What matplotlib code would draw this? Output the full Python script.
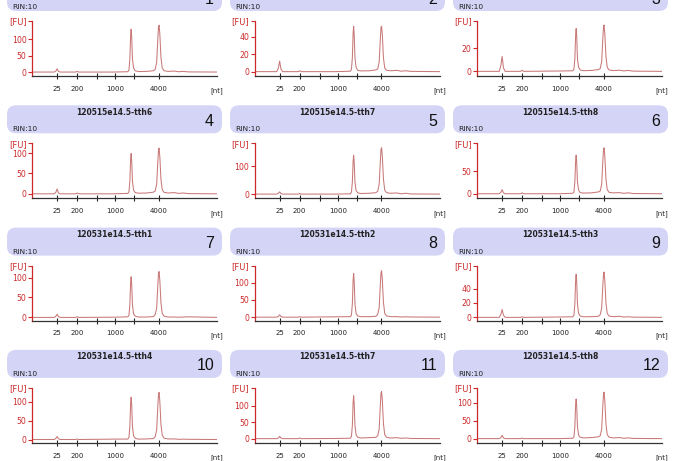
import matplotlib
matplotlib.use("Agg")
import matplotlib.pyplot as plt
from matplotlib.patches import FancyBboxPatch

# migration time grid (s) shared by all traces
time_s = [19.0, 25.0, 25.45, 25.8, 26.15, 26.6, 30.8, 31.2, 31.6, 41.0,
          44.9, 45.2, 45.45, 45.65, 45.8, 45.95, 46.15, 46.45, 46.9,
          47.8, 50.0, 51.8,
          52.3, 52.7, 53.0, 53.2, 53.35, 53.55, 53.85, 54.2, 54.7,
          55.8, 57.5, 58.6, 59.9, 61.2, 69.0]

# ladder ticks (position in s, label)
nt_pos = [25.8, 31.2, 36.6, 41.5, 46.6, 53.3]
nt_lab = ['25', '200', '', '1000', '', '4000']

sample_names = ['', '', '',
                '120515e14.5-tth6', '120515e14.5-tth7', '120515e14.5-tth8',
                '120531e14.5-tth1', '120531e14.5-tth2', '120531e14.5-tth3',
                '120531e14.5-tth4', '120531e14.5-tth7', '120531e14.5-tth8']
rin_values = [10] * 12

fu_1 = [0, 0, 3, 10, 2, 0, 0, 2, 0, 0, 1, 6, 40, 110, 130, 105, 40, 12, 4, 1.5, 2, 4, 8, 30, 100, 138, 142, 115, 45, 12, 4, 2, 3, 1, 2, 0.5, 0]
fu_2 = [0, 0, 4, 12, 3, 0, 0, 1, 0, 0, 0.5, 2.5, 16, 44, 52, 42, 16, 5, 1.5, 0.8, 1, 2, 3, 11, 37, 51, 52, 42, 16, 4, 1.5, 1, 1.5, 0.5, 1, 0.3, 0]
fu_3 = [0, 0, 5, 13, 3, 0, 0, 1, 0, 0.3, 0.5, 2, 11, 31, 37, 30, 11, 3.5, 1.2, 0.6, 0.8, 1.5, 2.4, 8.5, 28, 39, 40, 32, 13, 3.4, 1.2, 0.7, 1, 0.4, 0.8, 0.2, 0]
fu_4 = [0, 0, 4, 12, 2, 0, 0, 2, 0, 0, 1, 5, 31, 84, 99, 80, 31, 9, 3, 1.5, 2, 4, 7, 24, 78, 109, 112, 91, 36, 10, 3.5, 2, 3, 1, 2, 0.5, 0]
fu_5 = [0, 0, 3, 8, 2, 0, 0, 2, 0, 0, 1, 7, 43, 117, 138, 112, 43, 13, 4.5, 2, 3, 5, 10, 35, 115, 160, 165, 134, 53, 14, 5, 3, 4, 1, 3, 0.5, 0]
fu_6 = [0, 0, 3, 9, 2, 0, 0, 2, 0, 0, 1, 4, 26, 72, 85, 69, 26, 8, 2.5, 1.5, 2, 4, 6, 21, 71, 98, 101, 82, 32, 9, 3, 2, 2.5, 1, 2, 0.5, 0]
fu_7 = [0, 0, 3, 8, 2, 0, 0, 1.5, 0, 0.5, 1.5, 5, 32, 87, 102, 83, 32, 9, 3, 1, 1, 2, 7, 24, 80, 112, 115, 93, 37, 10, 3, 1, 1, 0.5, 1, 1.5, 0]
fu_8 = [0, 0, 2, 7, 2, 0, 0, 1.5, 0, 1, 1.5, 6, 39, 108, 127, 103, 39, 11, 3.5, 1.5, 1.5, 2.5, 8, 28, 95, 131, 135, 109, 43, 11, 3.5, 1.5, 1.5, 0.5, 1, 0.5, 0]
fu_9 = [0, 0, 4, 11, 3, 0, 0, 0.8, 0, 0.5, 0.8, 3, 19, 51, 60, 49, 19, 5.5, 1.8, 0.8, 1, 1.5, 3.8, 13, 44, 61, 63, 51, 20, 5.4, 1.8, 1, 1.5, 0.5, 0.8, 0.3, 0]
fu_10 = [0, 0, 3, 8, 2, 0, 0, 1.5, 0, 1, 1.2, 5.5, 35, 95, 112, 91, 35, 10, 3, 1, 1.5, 2.5, 7.5, 26, 88, 121, 125, 101, 40, 11, 3.5, 1.5, 1.5, 0.5, 1, 0.5, 0]
fu_11 = [0, 0, 2, 7, 2, 0, 0, 2, 0, 0.5, 1.3, 6.5, 40, 111, 131, 106, 40, 12, 4, 2, 3, 4, 8.5, 30, 101, 140, 144, 117, 46, 12, 4, 2, 3, 1, 2, 0.5, 0]
fu_12 = [0, 0, 3, 9, 2, 0, 0, 1.5, 0, 0, 1, 5.5, 34, 94, 111, 90, 34, 10, 3.5, 2, 3, 5, 8, 27, 91, 126, 130, 105, 42, 11, 4, 2, 3, 1, 2, 0.5, 0]
traces = [fu_1, fu_2, fu_3, fu_4, fu_5, fu_6, fu_7, fu_8, fu_9, fu_10, fu_11, fu_12]

y_low = [-12, -5, -4, -11, -15, -10, -8, -10, -4.5, -9, -13, -12]
y_high = [155, 58, 43.5, 124, 181, 111, 130, 150, 72, 137, 155, 142]
y_ticks = [[0, 50, 100], [0, 20, 40], [0, 20], [0, 50, 100], [0, 100], [0, 50],
           [0, 50, 100], [0, 50, 100], [0, 20, 40], [0, 50, 100], [0, 50, 100], [0, 50, 100]]

W, H = 681, 461
fig = plt.figure(figsize=(W / 100, H / 100), dpi=100)
fig.patch.set_facecolor('white')

red = '#cc2a2a'
trace_col = '#c97878'
box_col = '#d4d4f7'

def px(x, y):
    # pixel (top-left origin) -> inches for dpi_scale_trans
    return x / 100, (H - y) / 100

for i in range(12):
    r, c = divmod(i, 3)
    top = -17 + 122.3 * r
    hl = 7 + 223 * c
    hw = 215
    al = 32 + 222.5 * c
    aw = 185

    # header box
    bx, by = px(hl, top + 28)
    box = FancyBboxPatch((bx, by), hw / 100, 0.28,
                         boxstyle='round,pad=0,rounding_size=0.09',
                         transform=fig.dpi_scale_trans,
                         facecolor=box_col, edgecolor='none')
    fig.add_artist(box)
    if sample_names[i]:
        tx, ty = px(hl + hw / 2, top + 7)
        fig.text(tx, ty, sample_names[i], transform=fig.dpi_scale_trans,
                 ha='center', va='center', fontsize=5.5, fontweight='bold',
                 color='#222222')
    # sample number, top row is cut by the image edge as in the original
    nx, ny = px(hl + hw - 8, top + 16)
    fig.text(nx, ny, str(i + 1), transform=fig.dpi_scale_trans,
             ha='right', va='center', fontsize=11.5, family='Liberation Sans',
             color='#111111')
    rx, ry = px(hl + 5, top + 24)
    fig.text(rx, ry, 'RIN:%d' % rin_values[i], transform=fig.dpi_scale_trans,
             ha='left', va='center', fontsize=5.4, color='#222222')

    # electropherogram axes
    ax = fig.add_axes([al / W, 1 - (top + 93) / H, aw / W, 55 / H])
    ax.set_facecolor('none')
    ax.plot(time_s, traces[i], color=trace_col, lw=0.75)
    ax.set_xlim(19, 69)
    ax.set_ylim(y_low[i], y_high[i])
    for s in ['top', 'right']:
        ax.spines[s].set_visible(False)
    ax.spines['left'].set_color(red)
    ax.spines['left'].set_linewidth(0.9)
    ax.spines['bottom'].set_color('#333333')
    ax.spines['bottom'].set_linewidth(0.9)

    ax.set_yticks(y_ticks[i] + [y_high[i]])
    ax.set_yticklabels([str(v) for v in y_ticks[i]] + ['[FU]'])
    ax.tick_params(axis='y', colors=red, labelsize=5.6, length=3, width=0.8, pad=1)
    ax.get_yticklabels()[-1].set_fontsize(6)

    ax.set_xticks(nt_pos)
    ax.set_xticklabels(nt_lab)
    ax.tick_params(axis='x', colors='#222222', labelsize=5, length=4,
                   width=0.8, pad=5, direction='inout')
    ax.text(1.0, -0.27, '[nt]', transform=ax.transAxes, ha='center', va='center',
            fontsize=5, color='#222222')

fig.savefig('out.png', dpi=100)
